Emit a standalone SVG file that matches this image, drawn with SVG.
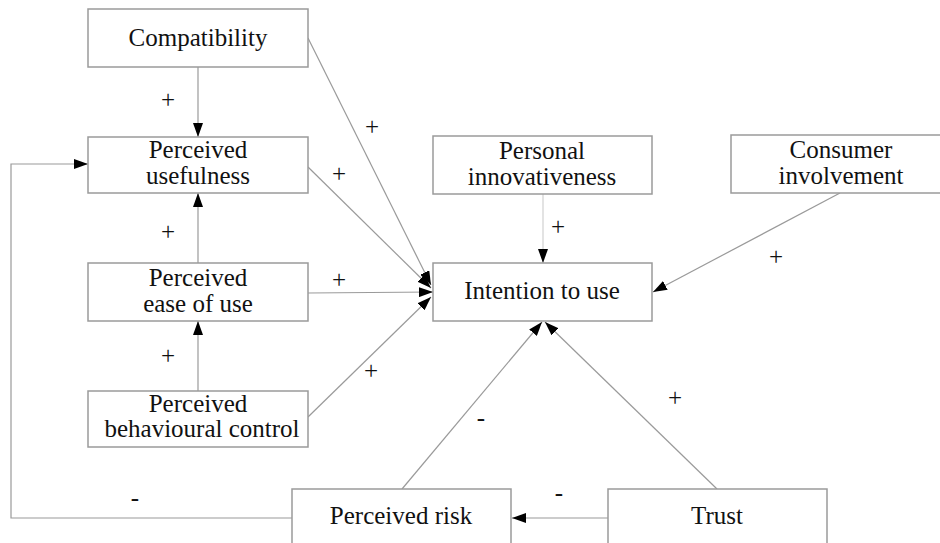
<svg xmlns="http://www.w3.org/2000/svg" width="940" height="543" viewBox="0 0 940 543">
<style>
.box{fill:#fff;stroke:#9a9a9a;stroke-width:1.5}
text{font-family:'Liberation Serif','Noto Serif','DejaVu Serif','Liberation Sans',serif;font-size:25px;fill:#111;text-anchor:middle}
.c{fill:none;stroke:#9a9a9a;stroke-width:1.2}
.light{stroke:#d0d0d0}
</style>
<defs>
<marker id="ah" markerUnits="userSpaceOnUse" markerWidth="14" markerHeight="10" refX="14" refY="5" orient="auto">
<path d="M0,0 L14,5 L0,10 z" fill="#000"/>
</marker>
</defs>
<rect width="940" height="543" fill="#fff"/>
<g id="connectors">
<path class="c" d="M198,67 L198,137" marker-end="url(#ah)"/>
<path class="c" d="M198,263 L198,193" marker-end="url(#ah)"/>
<path class="c" d="M198,391 L198,321" marker-end="url(#ah)"/>
<path class="c" d="M308,38 L431,285" marker-end="url(#ah)"/>
<path class="c" d="M308,167 L431,288" marker-end="url(#ah)"/>
<path class="c" d="M308,293 L433,292" marker-end="url(#ah)"/>
<path class="c" d="M308,417 L431,297" marker-end="url(#ah)"/>
<path class="c light" d="M543,194 L543,263" marker-end="url(#ah)"/>
<path class="c" d="M840,193 L653,292" marker-end="url(#ah)"/>
<path class="c" d="M402,489 L542,322" marker-end="url(#ah)"/>
<path class="c" d="M717,489 L545,322" marker-end="url(#ah)"/>
<path class="c" d="M608,518 L512,518" marker-end="url(#ah)"/>
<path class="c" d="M292,518 L11,518 L11,164 L88,164" marker-end="url(#ah)"/>
</g>
<g id="labels">
<text x="168" y="108">+</text>
<text x="372" y="135">+</text>
<text x="339" y="182">+</text>
<text x="168" y="240">+</text>
<text x="339" y="288">+</text>
<text x="168" y="364">+</text>
<text x="371" y="379">+</text>
<text x="558" y="235">+</text>
<text x="776" y="265">+</text>
<text x="675" y="406">+</text>
<text x="481" y="426">-</text>
<text x="559" y="501">-</text>
<text x="135" y="506">-</text>
</g>
<g id="compatibility">
<rect class="box" x="88" y="9" width="220" height="58"/>
<text x="198" y="46">Compatibility</text>
</g>
<g id="perceived-usefulness">
<rect class="box" x="88" y="137" width="220" height="56"/>
<text x="198" y="158">Perceived</text>
<text x="198" y="184">usefulness</text>
</g>
<g id="perceived-ease-of-use">
<rect class="box" x="88" y="263" width="220" height="58"/>
<text x="198" y="286">Perceived</text>
<text x="198" y="312">ease of use</text>
</g>
<g id="perceived-behavioural-control">
<rect class="box" x="88" y="391" width="220" height="56"/>
<text x="198" y="412">Perceived</text>
<text x="202" y="437">behavioural control</text>
</g>
<g id="personal-innovativeness">
<rect class="box" x="433" y="136" width="219" height="58"/>
<text x="542" y="159">Personal</text>
<text x="542" y="185">innovativeness</text>
</g>
<g id="consumer-involvement">
<rect class="box" x="731" y="135" width="220" height="58"/>
<text x="841" y="158">Consumer</text>
<text x="841" y="184">involvement</text>
</g>
<g id="intention-to-use">
<rect class="box" x="433" y="263" width="219" height="58"/>
<text x="542" y="299">Intention to use</text>
</g>
<g id="perceived-risk">
<rect class="box" x="292" y="489" width="219" height="70"/>
<text x="401" y="524">Perceived risk</text>
</g>
<g id="trust">
<rect class="box" x="608" y="489" width="219" height="70"/>
<text x="717" y="524">Trust</text>
</g>
</svg>
